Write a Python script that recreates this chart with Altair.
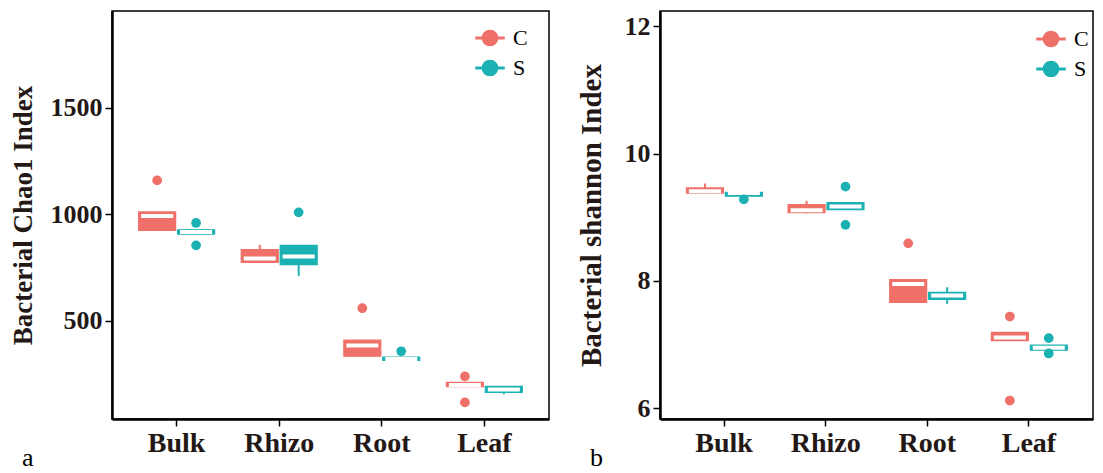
import altair as alt
import pandas as pd

sites = ["Bulk", "Rhizo", "Root", "Leaf"]
groups = ["C", "S"]
palette = ["#EF7068", "#1BB1B3"]

box_site = ["Bulk", "Bulk", "Rhizo", "Rhizo", "Root", "Root", "Leaf", "Leaf"]
box_group = ["C", "S", "C", "S", "C", "S", "C", "S"]

# Chao1 panel
chao_lo = [925, 908, 775, 712, 335, 315, 192, 156]
chao_q1 = [925, 908, 775, 765, 335, 315, 192, 165]
chao_med = [993, 918, 793, 803, 385, 322, 200, 178]
chao_q3 = [1012, 928, 835, 855, 410, 330, 212, 193]
chao_hi = [1012, 928, 858, 855, 410, 330, 212, 193]
chao_out_site = ["Bulk", "Bulk", "Bulk", "Rhizo", "Root", "Root", "Leaf", "Leaf"]
chao_out_group = ["C", "S", "S", "S", "C", "S", "C", "C"]
chao_out_value = [1160, 960, 855, 1010, 560, 358, 240, 118]

# Shannon panel
shan_lo = [9.38, 9.33, 9.06, 9.12, 7.66, 7.64, 7.06, 6.91]
shan_q1 = [9.38, 9.33, 9.07, 9.12, 7.66, 7.71, 7.06, 6.91]
shan_med = [9.41, 9.38, 9.11, 9.17, 7.95, 7.77, 7.11, 6.95]
shan_q3 = [9.46, 9.39, 9.20, 9.23, 8.02, 7.82, 7.19, 6.99]
shan_hi = [9.53, 9.39, 9.26, 9.23, 8.02, 7.90, 7.19, 6.99]
shan_out_site = ["Bulk", "Rhizo", "Rhizo", "Root", "Leaf", "Leaf", "Leaf", "Leaf"]
shan_out_group = ["S", "S", "S", "C", "C", "C", "S", "S"]
shan_out_value = [9.28, 9.48, 8.88, 8.59, 7.44, 6.12, 7.10, 6.86]

FONT = "Liberation Serif"
TXT = "#231815"
LEG_PATH = ("M-1,-0.045H-0.5V0.045H-1Z M0.5,-0.045H1V0.045H0.5Z "
            "M0.54,0A0.54,0.54,0,1,1,-0.54,0A0.54,0.54,0,1,1,0.54,0Z")


def make_panel(lo, q1, med, q3, hi, o_site, o_group, o_val, domain, ticks,
               ytitle, letter, title_pad, title_size, width, leg_x, leg_y):
    bdf = pd.DataFrame(dict(site=box_site, group=box_group, lo=lo, q1=q1,
                            med=med, q3=q3, hi=hi))
    odf = pd.DataFrame(dict(site=o_site, group=o_group, value=o_val))
    xenc = alt.X("site:N", sort=sites, title=None,
                 scale=alt.Scale(paddingInner=0.26, paddingOuter=0.26),
                 axis=alt.Axis(labelAngle=0, labelFontSize=28, ticks=True,
                               tickSize=7, labelPadding=3))
    xoff = alt.XOffset("group:N", sort=groups,
                       scale=alt.Scale(paddingInner=0.05))
    ysc = alt.Scale(domain=domain, nice=False, zero=False)
    yax = alt.Axis(values=ticks, format="d", title=ytitle,
                   titlePadding=title_pad, titleFontSize=title_size,
                   labelPadding=3, tickSize=7)
    gsc = alt.Scale(domain=groups, range=palette)

    whisk = alt.Chart(bdf).mark_rule(strokeWidth=2).encode(
        x=xenc, xOffset=xoff,
        y=alt.Y("lo:Q", scale=ysc, axis=yax), y2="hi:Q",
        color=alt.Color("group:N", scale=gsc, legend=alt.Legend(
            title=None, orient="none", legendX=leg_x, legendY=leg_y,
            symbolType=LEG_PATH, symbolSize=784, symbolOpacity=1,
            labelFont=FONT, labelFontSize=22, labelColor="black",
            labelFontWeight="normal", labelOffset=8, rowPadding=4,
            padding=0)))
    box = alt.Chart(bdf).mark_bar(strokeWidth=1.2).encode(
        x=xenc, xOffset=xoff,
        y=alt.Y("q1:Q", scale=ysc), y2="q3:Q",
        color=alt.Color("group:N", scale=gsc),
        stroke=alt.Stroke("group:N", scale=gsc, legend=None))
    medl = alt.Chart(bdf).mark_tick(color="white", thickness=4, size=32,
                                    opacity=1).encode(
        x=xenc, xOffset=xoff, y=alt.Y("med:Q", scale=ysc))
    pts = alt.Chart(odf).mark_circle(size=95, opacity=1).encode(
        x=xenc, xOffset=xoff, y=alt.Y("value:Q", scale=ysc),
        color=alt.Color("group:N", scale=gsc))
    return alt.layer(whisk, box, medl, pts).properties(
        width=width, height=408,
        title=alt.TitleParams(letter, orient="bottom", anchor="start",
                              fontSize=26, font=FONT, fontWeight="normal",
                              color="black", dx=13, offset=-12))


left = make_panel(chao_lo, chao_q1, chao_med, chao_q3, chao_hi,
                  chao_out_site, chao_out_group, chao_out_value,
                  [40, 1955], [500, 1000, 1500], "Bacterial Chao1 Index",
                  "a", 13, 27, 437, 363, 12)
right = make_panel(shan_lo, shan_q1, shan_med, shan_q3, shan_hi,
                   shan_out_site, shan_out_group, shan_out_value,
                   [5.83, 12.24], [6, 8, 10, 12], "Bacterial shannon Index",
                   "b", 18, 29, 433, 376, 13)

chart = alt.hconcat(left, right, spacing=26).resolve_scale(
    y="independent", color="independent",
    stroke="independent").resolve_legend(color="independent").properties(
    padding={"left": 0, "top": 2, "right": 0, "bottom": 0}
).configure_view(stroke="black", strokeWidth=1.5).configure_axis(
    grid=False, domainColor="black", domainWidth=2.5, tickColor="black",
    tickWidth=1.5, labelFont=FONT, labelFontWeight="bold", labelFontSize=26,
    labelColor=TXT, titleFont=FONT, titleFontWeight="bold", titleFontSize=27,
    titleColor=TXT)

chart.save("out.html", embed_options={"renderer": "svg", "actions": False})
